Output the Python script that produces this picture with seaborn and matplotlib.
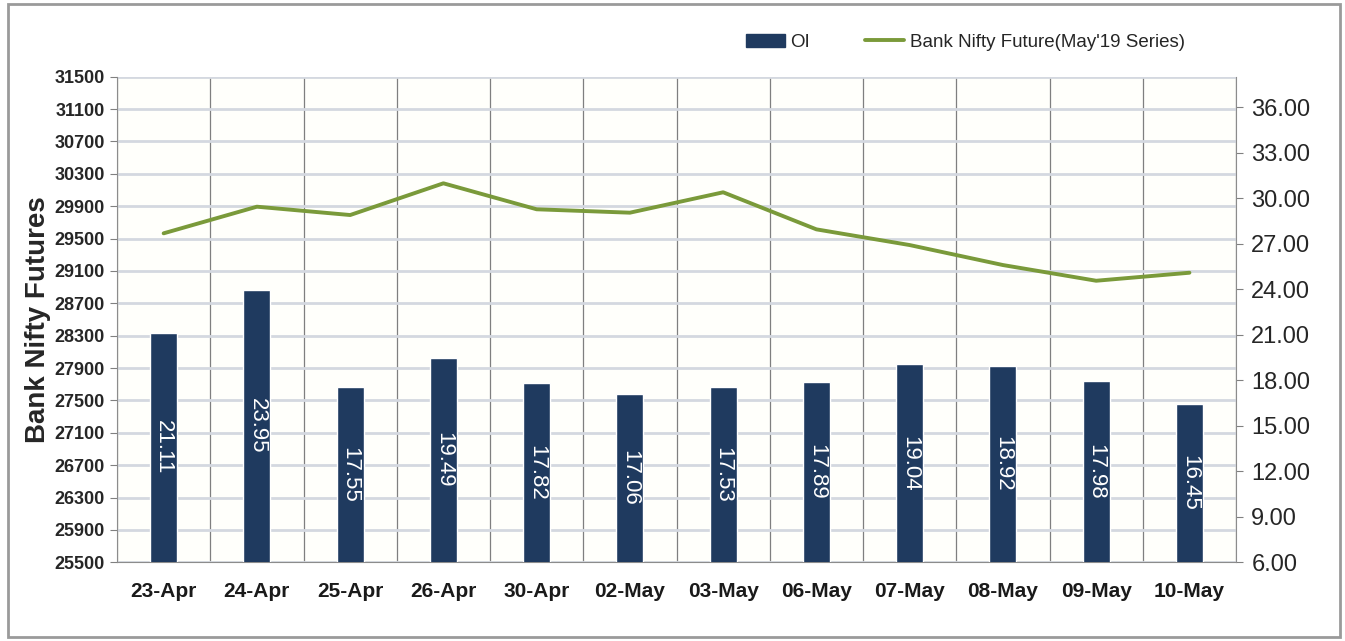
import numpy as np
import pandas as pd
import seaborn as sns
from matplotlib import pyplot as plt
from matplotlib.patches import Patch, Rectangle
from matplotlib.lines import Line2D
from matplotlib.ticker import FormatStrFormatter

dates = ["23-Apr", "24-Apr", "25-Apr", "26-Apr", "30-Apr", "02-May",
         "03-May", "06-May", "07-May", "08-May", "09-May", "10-May"]
oi = [21.11, 23.95, 17.55, 19.49, 17.82, 17.06, 17.53, 17.89, 19.04, 18.92, 17.98, 16.45]
future = [29565, 29894, 29791, 30183, 29862, 29820, 30072, 29614, 29420, 29173, 28979, 29078]

left_ticks = list(range(25500, 31501, 400))
right_ticks = [6, 9, 12, 15, 18, 21, 24, 27, 30, 33, 36]

bar_color = "#1f3a5f"
line_color = "#7a9a3a"
fonts = ["Liberation Sans", "DejaVu Sans"]

df = pd.DataFrame({"date": dates, "oi": oi, "future": future})

sns.set_style("white")
plt.rcParams["font.family"] = fonts

fig = plt.figure(figsize=(13.45, 6.41), dpi=100)
ax = fig.add_axes([0.087, 0.1228, 0.832, 0.7575])
ax2 = ax.twinx()

# OI bars on the right axis
sns.barplot(ax=ax2, data=df, x="date", y="oi", color=bar_color, width=0.29,
            saturation=1, zorder=3)
for i, v in enumerate(oi):
    ax2.text(i, (v + 6) / 2, f"{v:.2f}", rotation=270, color="white",
             ha="center", va="center", fontsize=16, zorder=4)

# futures price on the left axis
sns.lineplot(ax=ax, x=np.arange(len(dates)), y=df["future"], color=line_color,
             linewidth=2.8, zorder=2)

ax.set_xlim(-0.5, len(dates) - 0.5)
ax.set_ylim(25500, 31500)
ax2.set_ylim(6, 38)
ax.set_yticks(left_ticks)
ax2.set_yticks(right_ticks)
ax2.yaxis.set_major_formatter(FormatStrFormatter("%.2f"))

ax.set_xticks(np.arange(len(dates)))
ax.set_xticklabels(dates, fontsize=15, fontweight="bold", color="#1a1a1a")
ax.set_xticks(np.arange(-0.5, len(dates)), minor=True)
ax2.set_xlabel("")
ax2.set_ylabel("")
ax.set_xlabel("")
ax.set_ylabel("Bank Nifty Futures", fontsize=20, fontweight="bold", labelpad=2)

ax.tick_params(axis="x", which="major", length=0, pad=14)
ax.tick_params(axis="x", which="minor", length=8, color="#808080", width=1)
ax.tick_params(axis="y", length=5, color="#808080", labelsize=13, pad=4)
ax2.tick_params(axis="y", length=5, color="#808080", labelsize=17, pad=6)
for lab in ax.get_yticklabels():
    lab.set_fontweight("bold")

ax.set_axisbelow(True)
ax.grid(axis="y", color="#d4d8e0", linewidth=2)
ax.grid(axis="x", which="minor", color="#7f7f7f", linewidth=0.9)
ax.set_facecolor("#fffffb")

for s in ["top", "right"]:
    ax.spines[s].set_visible(False)
for s in ["top", "left", "bottom"]:
    ax2.spines[s].set_visible(False)
ax.spines["left"].set_color("#8c8c8c")
ax.spines["bottom"].set_color("#8c8c8c")
ax2.spines["right"].set_color("#8c8c8c")

handles = [Patch(color=bar_color, label="OI"),
           Line2D([], [], color=line_color, linewidth=2.8,
                  label="Bank Nifty Future(May'19 Series)")]
fig.legend(handles=handles, loc="center", bbox_to_anchor=(0.7176, 0.934), ncol=2,
           frameon=False, fontsize=13.5, handlelength=2.1, handletextpad=0.3,
           columnspacing=2.9)

fig.patches.append(Rectangle((0.006, 0.006), 0.99, 0.988, transform=fig.transFigure,
                             fill=False, edgecolor="#9a9a9a", linewidth=2))

plt.savefig("out.png", dpi=100)
